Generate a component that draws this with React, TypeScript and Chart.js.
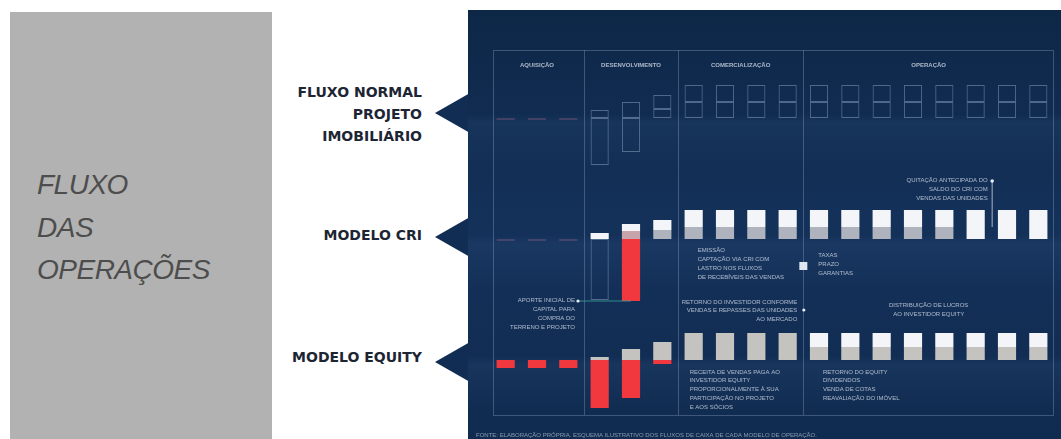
import { useEffect, useRef } from "react";
import { Chart, registerables } from "chart.js";

Chart.register(...registerables);

// ---------- data ----------
const periods = ["T1", "T2", "T3", "T4", "T5", "T6", "T7", "T8", "T9", "T10", "T11", "T12", "T13", "T14", "T15", "T16", "T17", "T18"];
const sectionLabels = ["AQUISIÇÃO", "DESENVOLVIMENTO", "COMERCIALIZAÇÃO", "OPERAÇÃO"];
const sectionSpans = [3, 3, 4, 8];

const rowLabels = [["FLUXO NORMAL", "PROJETO", "IMOBILIÁRIO"], ["MODELO CRI"], ["MODELO EQUITY"]];
const sideTitle = ["FLUXO", "DAS", "OPERAÇÕES"];

// Fluxo normal (outlined)
const normalTrace = [-2, -2, -2, null, null, null, null, null, null, null, null, null, null, null, null, null, null, null];
const normalLower = [null, null, null, 8, 16, 9, 16, 16, 16, 16, 16, 16, 16, 16, 16, 16, 16, 16];
const normalUpper = [null, null, null, null, null, 14, 17, 17, 17, 17, 17, 17, 17, 17, 17, 17, 17, 17];
const normalNegative = [null, null, null, -47, -34, null, null, null, null, null, null, null, null, null, null, null, null, null];

// Modelo CRI
const criTrace = [-2, -2, -2, null, null, null, null, null, null, null, null, null, null, null, null, null, null, null];
const criGrey = [null, null, null, null, 8, 9, 12, 12, 12, 12, 12, 12, 12, 12, 12, null, null, null];
const criWhite = [null, null, null, 6, 7, 10, 17, 17, 17, 17, 17, 17, 17, 17, 17, 29, 29, 29];
const criRed = [null, null, null, null, -62, null, null, null, null, null, null, null, null, null, null, null, null, null];
const criOutline = [null, null, null, -61, null, null, null, null, null, null, null, null, null, null, null, null, null, null];

// Modelo Equity
const equityRed = [-8, -8, -8, -48, -38, -4, null, null, null, null, null, null, null, null, null, null, null, null];
const equityGrey = [null, null, null, 3, 11, 18, 27, 27, 27, 27, 13, 13, 13, 13, 13, 13, 13, 13];
const equityWhite = [null, null, null, null, null, null, null, null, null, null, 14, 14, 14, 14, 14, 14, 14, 14];

// notes
const criEndNote = ["QUITAÇÃO ANTECIPADA DO", "SALDO DO CRI COM", "VENDAS DAS UNIDADES"];
const criIssueNote = ["EMISSÃO", "CAPTAÇÃO VIA CRI COM", "LASTRO NOS FLUXOS", "DE RECEBÍVEIS DAS VENDAS"];
const criTermsNote = ["TAXAS", "PRAZO", "GARANTIAS"];
const equityStartNote = ["APORTE INICIAL DE", "CAPITAL PARA", "COMPRA DO", "TERRENO E PROJETO"];
const equityReturnNote = ["RETORNO DO INVESTIDOR CONFORME", "VENDAS E REPASSES DAS UNIDADES", "AO MERCADO"];
const equityProfitNote = ["DISTRIBUIÇÃO DE LUCROS", "AO INVESTIDOR EQUITY"];
const equitySalesNote = ["RECEITA DE VENDAS PAGA AO", "INVESTIDOR EQUITY", "PROPORCIONALMENTE À SUA", "PARTICIPAÇÃO NO PROJETO", "E AOS SÓCIOS"];
const equityExitNote = ["RETORNO DO EQUITY", "DIVIDENDOS", "VENDA DE COTAS", "REAVALIAÇÃO DO IMÓVEL"];
const footnote = "FONTE: ELABORAÇÃO PRÓPRIA. ESQUEMA ILUSTRATIVO DOS FLUXOS DE CAIXA DE CADA MODELO DE OPERAÇÃO.";

// ---------- styles ----------
const NAVY = "#112d54";
const WHITE = "#f3f5f8";
const GREY_CRI = "#aeb3bd";
const GREY_EQ = "#c5c3bf";
const RED = "#f2383f";
const OUTLINE = "rgba(185,205,232,0.38)";
const TEXT = "rgba(228,235,245,0.72)";

function drawLines(ctx: CanvasRenderingContext2D, lines: string[], x: number, y: number, step: number, align: CanvasTextAlign) {
  ctx.textAlign = align;
  lines.forEach((l, i) => ctx.fillText(l, x, y + i * step));
}

const panelPlugin = {
  id: "panel",
  beforeDraw(chart: any) {
    const { ctx, width, height, scales } = chart;
    const x = scales.x;
    ctx.save();
    const g = ctx.createLinearGradient(0, 0, 0, height);
    g.addColorStop(0, "#0d2747");
    g.addColorStop(0.5, "#14315a");
    g.addColorStop(1, "#102b50");
    ctx.fillStyle = g;
    ctx.fillRect(0, 0, width, height);
    // row bands
    ["yN", "yC", "yE"].forEach((id) => {
      const b = scales[id].getPixelForValue(0);
      const bg = ctx.createLinearGradient(0, b - 4, 0, b + 52);
      bg.addColorStop(0, "rgba(90,130,185,0.0)");
      bg.addColorStop(0.15, "rgba(90,130,185,0.09)");
      bg.addColorStop(1, "rgba(90,130,185,0.0)");
      ctx.fillStyle = bg;
      ctx.fillRect(0, b - 4, width, 56);
    });
    // section boxes
    const cw = (x.right - x.left) / periods.length;
    const edge = (i: number) => x.left + i * cw;
    const top = 40;
    const bottom = 405;
    ctx.strokeStyle = "rgba(160,185,215,0.32)";
    ctx.lineWidth = 1;
    ctx.strokeRect(Math.round(x.left + 3) + 0.5, top + 0.5, Math.round(x.right - x.left - 4), bottom - top);
    let acc = 0;
    ctx.font = "bold 6px 'Liberation Sans'";
    ctx.fillStyle = TEXT;
    ctx.textBaseline = "middle";
    ctx.textAlign = "center";
    sectionSpans.forEach((s, k) => {
      const a = acc;
      acc += s;
      if (k < sectionSpans.length - 1) {
        const px = Math.round(edge(acc)) + 0.5;
        ctx.beginPath();
        ctx.moveTo(px, top);
        ctx.lineTo(px, bottom);
        ctx.stroke();
      }
      ctx.fillText(sectionLabels[k], (edge(a) + edge(acc)) / 2, 55);
    });
    ctx.restore();
  },
  afterDatasetsDraw(chart: any) {
    const { ctx, scales } = chart;
    const x = scales.x;
    const cw = (x.right - x.left) / periods.length;
    const edge = (i: number) => x.left + i * cw;
    const cx = (i: number) => x.getPixelForValue(i);
    const bC = scales.yC.getPixelForValue(0);
    const bE = scales.yE.getPixelForValue(0);
    ctx.save();
    ctx.font = "6px 'Liberation Sans'";
    ctx.fillStyle = TEXT;
    ctx.textBaseline = "middle";

    // CRI end note with leader
    drawLines(ctx, criEndNote, cx(15) + 12, bC - 59, 9, "right");
    ctx.strokeStyle = "rgba(230,236,245,0.7)";
    ctx.lineWidth = 1;
    ctx.beginPath();
    ctx.moveTo(cx(15) + 16.5, bC - 58);
    ctx.lineTo(cx(15) + 16.5, bC - 12);
    ctx.stroke();
    ctx.fillStyle = "#e8eef6";
    ctx.beginPath();
    ctx.arc(cx(15) + 16.5, bC - 58, 1.8, 0, Math.PI * 2);
    ctx.fill();
    ctx.fillStyle = TEXT;

    drawLines(ctx, criIssueNote, cx(6) + 4, bC + 11, 9, "left");
    ctx.fillStyle = "#dfe6ef";
    ctx.fillRect(edge(10) - 4, bC + 23, 8, 8);
    ctx.fillStyle = TEXT;
    drawLines(ctx, criTermsNote, edge(10) + 15, bC + 16, 9, "left");

    // Equity notes
    drawLines(ctx, equityStartNote, edge(3) - 9, bE - 60, 9, "right");
    const yRed = scales.yC.getPixelForValue(criRed[4] as number);
    ctx.strokeStyle = "rgba(60,165,150,0.8)";
    ctx.beginPath();
    ctx.moveTo(edge(3) - 6, yRed);
    ctx.lineTo(cx(4), yRed);
    ctx.stroke();
    ctx.fillStyle = "#e8eef6";
    ctx.beginPath();
    ctx.arc(edge(3) - 6, yRed, 1.6, 0, Math.PI * 2);
    ctx.fill();
    ctx.fillStyle = TEXT;

    drawLines(ctx, equityReturnNote, edge(10) - 6, bE - 58, 8.5, "right");
    ctx.fillStyle = "#e8eef6";
    ctx.beginPath();
    ctx.arc(edge(10) + 0.5, bE - 50, 1.6, 0, Math.PI * 2);
    ctx.fill();
    ctx.fillStyle = TEXT;

    drawLines(ctx, equityProfitNote, (edge(10) + edge(18)) / 2, bE - 55, 9, "center");
    drawLines(ctx, equitySalesNote, cx(6) - 4, bE + 12, 8.8, "left");
    drawLines(ctx, equityExitNote, cx(10) + 4, bE + 12, 8.8, "left");

    ctx.fillStyle = "rgba(228,235,245,0.55)";
    ctx.textAlign = "left";
    ctx.fillText(footnote, 8, 425);
    ctx.restore();
  },
};

function bar(label: string, data: (number | null)[], axis: string, color: string | string[], extra: any = {}) {
  return {
    type: "bar" as const,
    label,
    data,
    yAxisID: axis,
    stack: "fluxo",
    backgroundColor: color,
    borderWidth: 0,
    ...extra,
  };
}

const outline = {
  backgroundColor: "rgba(0,0,0,0)",
  borderColor: OUTLINE,
  borderWidth: 1,
  borderSkipped: false,
};

export default function App() {
  const ref = useRef<HTMLCanvasElement | null>(null);

  useEffect(() => {
    if (!ref.current) return;
    const criGreyColors = criGrey.map((_, i) => (i === 4 ? "#c7a3ab" : GREY_CRI));
    const chart = new Chart(ref.current, {
      type: "bar",
      data: {
        labels: periods,
        datasets: [
          bar("Fluxo normal - traço", normalTrace, "yN", "rgba(200,120,140,0.25)"),
          bar("Fluxo normal - base", normalLower, "yN", "rgba(0,0,0,0)", outline),
          bar("Fluxo normal - topo", normalUpper, "yN", "rgba(0,0,0,0)", outline),
          bar("Fluxo normal - saída", normalNegative, "yN", "rgba(0,0,0,0)", outline),
          bar("CRI - traço", criTrace, "yC", "rgba(200,120,140,0.25)"),
          bar("CRI - base", criGrey, "yC", criGreyColors),
          bar("CRI - topo", criWhite, "yC", WHITE),
          bar("CRI - saída", criRed, "yC", RED),
          bar("CRI - contorno", criOutline, "yC", "rgba(0,0,0,0)", outline),
          bar("Equity - saída", equityRed, "yE", RED),
          bar("Equity - base", equityGrey, "yE", GREY_EQ),
          bar("Equity - topo", equityWhite, "yE", WHITE),
        ],
      },
      options: {
        responsive: true,
        maintainAspectRatio: false,
        animation: false,
        layout: { padding: { left: 22, right: 7, top: 0, bottom: 0 } },
        plugins: { legend: { display: false }, tooltip: { enabled: false } },
        datasets: { bar: { categoryPercentage: 1, barPercentage: 0.58 } },
        scales: {
          x: { type: "category", display: false, stacked: true, offset: true, grid: { display: false } },
          yN: { type: "linear", display: false, stacked: true, min: -321, max: 108 },
          yC: { type: "linear", display: false, stacked: true, min: -200, max: 229 },
          yE: { type: "linear", display: false, stacked: true, min: -79, max: 350 },
        },
      } as any,
      plugins: [panelPlugin],
    });
    return () => chart.destroy();
  }, []);

  const labelStyle = {
    position: "absolute" as const,
    left: 0,
    width: 422,
    textAlign: "right" as const,
    fontFamily: "'DejaVu Sans', sans-serif",
    fontWeight: 700,
    fontSize: 14,
    lineHeight: "22px",
    color: "#1d2533",
    whiteSpace: "nowrap" as const,
  };

  const tri = (tipY: number) => ({
    position: "absolute" as const,
    left: 435,
    top: tipY - 20,
    width: 0,
    height: 0,
    borderTop: "20px solid transparent",
    borderBottom: "20px solid transparent",
    borderRight: `35px solid ${NAVY}`,
  });

  return (
    <div style={{ position: "absolute", left: 0, top: 0, width: 1061, height: 439, overflow: "hidden", background: "#ffffff" }}>
      <div style={{ position: "absolute", left: 10, top: 12, width: 262, height: 427, background: "#b2b2b2" }} />
      <div
        style={{
          position: "absolute",
          left: 37,
          top: 164,
          fontFamily: "'Liberation Sans', Arial, sans-serif",
          fontStyle: "italic",
          fontSize: 28,
          lineHeight: "42.5px",
          letterSpacing: "-0.5px",
          color: "#4d4d4d",
          whiteSpace: "nowrap",
        }}
      >
        {sideTitle.map((t) => (
          <div key={t}>{t}</div>
        ))}
      </div>

      <div style={{ ...labelStyle, top: 81 }}>
        {rowLabels[0].map((t) => (
          <div key={t}>{t}</div>
        ))}
      </div>
      <div style={{ ...labelStyle, top: 224 }}>{rowLabels[1][0]}</div>
      <div style={{ ...labelStyle, top: 346 }}>{rowLabels[2][0]}</div>

      <div style={tri(113)} />
      <div style={tri(237)} />
      <div style={tri(362)} />

      <div style={{ position: "absolute", left: 468, top: 10, width: 593, height: 429 }}>
        <canvas ref={ref} />
      </div>
    </div>
  );
}
